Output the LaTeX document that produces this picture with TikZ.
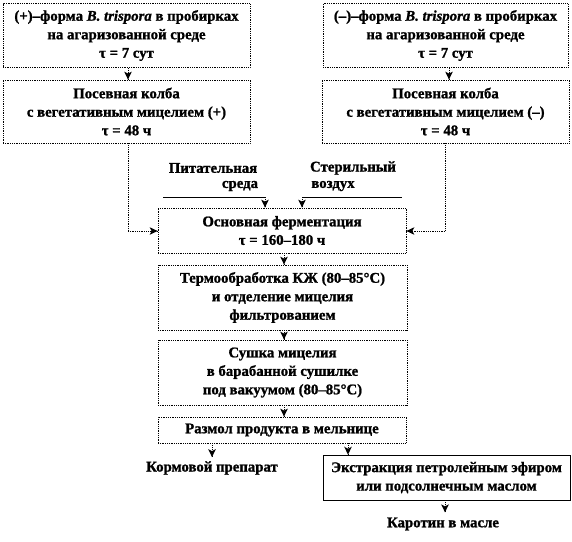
\documentclass[tikz,border=0pt]{standalone}
\usepackage{fontspec}
\setmainfont{Liberation Serif}[BoldFeatures={FakeBold=1.2},BoldItalicFeatures={FakeBold=1.2}]
\usetikzlibrary{decorations.markings}
\begin{document}
\begin{tikzpicture}[x=1pt,y=-1pt,
  box/.style={draw, densely dotted, line width=0.8pt, rectangle, inner sep=0pt, align=center,
    font=\fontsize{14.8}{18.5}\selectfont\bfseries},
  sbox/.style={box, solid, line width=0.6pt},
  lbl/.style={align=center, inner sep=0pt, font=\fontsize{14.8}{18.5}\selectfont\bfseries},
  dline/.style={densely dotted, line width=0.8pt},
  conn/.style={dline, postaction={decorate, decoration={markings,
     mark=at position 1 with {\fill[solid] (0pt,0pt) -- (-8pt,3.8pt) -- (-6pt,0pt) -- (-8pt,-3.8pt) -- cycle;}}}},
  plain/.style={line width=0.6pt}
]
\useasboundingbox (0,0) rectangle (572,541);
\node[box, minimum width=247pt, minimum height=64pt] (b1) at (126.5,35.5)
  {(+)–форма \textit{B. trispora} в пробирках\\на агаризованной среде\\τ = 7 сут};
\node[box, minimum width=247pt, minimum height=63pt] (b2) at (126.5,111.5)
  {Посевная колба\\с вегетативным мицелием (+)\\τ = 48 ч};
\node[box, minimum width=245pt, minimum height=64pt] (b3) at (445.5,35.5)
  {(–)–форма \textit{B. trispora} в пробирках\\на агаризованной среде\\τ = 7 сут};
\node[box, minimum width=247pt, minimum height=63pt] (b4) at (445.5,111.5)
  {Посевная колба\\с вегетативным мицелием (–)\\τ = 48 ч};
\node[box, minimum width=248pt, minimum height=45pt] (b5) at (282,230.5)
  {Основная ферментация\\τ = 160–180 ч};
\node[box, minimum width=249pt, minimum height=65pt] (b6) at (282.5,297.5)
  {Термообработка КЖ (80–85°C)\\и отделение мицелия\\фильтрованием};
\node[box, minimum width=249pt, minimum height=65pt] (b7) at (282.5,372.5)
  {Сушка  мицелия\\в барабанной сушилке\\под вакуумом  (80–85°C)};
\node[box, minimum width=248pt, minimum height=26pt] (b8) at (282,430)
  {Размол продукта в мельнице};
\node[sbox, minimum width=247pt, minimum height=45pt] (b9) at (446.5,477.5)
  {Экстракция петролейным эфиром\\или подсолнечным маслом};
\node[lbl] (k1) at (212,468) {Кормовой препарат};
\node[lbl] (k2) at (443,524) {Каротин в масле};
\node[lbl] (p1) at (213,168) {Питательная};
\node[lbl] (p2) at (240,186) {среда};
\node[lbl] (s1) at (353,168) {Стерильный};
\node[lbl] (s2) at (333,186) {воздух};
\coordinate (pl) at (163,197);
\coordinate (pr) at (265,197);
\coordinate (sl) at (302,197);
\coordinate (sr) at (402,197);
\coordinate (cl) at (128,231);
\coordinate (cr) at (445,231);
% connectors
\draw[conn] (b1.south -| 128,0) -- (b2.north -| 128,0);
\draw[conn] (b3.south -| 449,0) -- (b4.north -| 449,0);
\draw[dline] (b2.south -| cl) -- (cl);
\draw[conn] (cl) -- (b5.west |- cl);
\draw[dline] (b4.south -| cr) -- (cr);
\draw[conn] (cr) -- (b5.east |- cr);
\draw[plain] (pl) -- (pr);
\draw[plain] (sl) -- (sr);
\draw[conn] (pr) -- (b5.north -| pr);
\draw[conn] (sl) -- (b5.north -| sl);
\draw[conn] (b5.south -| 284,0) -- (b6.north -| 284,0);
\draw[conn] (b6.south -| 284,0) -- (b7.north -| 284,0);
\draw[conn] (b7.south -| 284,0) -- (b8.north -| 284,0);
\draw[conn] (b8.south -| 212,0) -- ([yshift=4pt]k1.north -| 212,0);
\draw[conn] (b8.south -| 348,0) -- (b9.north -| 348,0);
\draw[conn] (b9.south -| 445,0) -- ([yshift=5pt]k2.north -| 445,0);
\end{tikzpicture}
\end{document}
